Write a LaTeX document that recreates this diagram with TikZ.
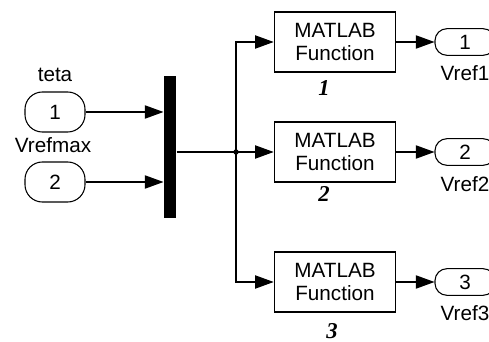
\documentclass[tikz,border=0pt]{standalone}
\usepackage{fontspec}
\setmainfont{Liberation Sans}
\newfontfamily\gainfont{Liberation Serif}
\usetikzlibrary{positioning, arrows.meta}
\tikzset{
  simulink/.style={
	x=0.75pt, y=-0.75pt, % one unit is one pixel of the screenshot
	line width=0.8pt,
	>={Triangle[length=14pt,width=10pt]}, % filled Simulink heads
	font=\fontsize{15.5}{17.5}\selectfont,
  },
  inport/.style={draw, rounded corners=13pt, minimum width=45pt, minimum height=30pt, inner sep=0pt},
  outport/.style={draw, rounded corners=9pt, minimum width=45pt, minimum height=20pt, inner sep=0pt},
  fcnbox/.style={draw, line width=1pt, minimum width=91pt, minimum height=45pt, align=center, inner sep=0pt},
  muxbar/.style={fill=black, minimum width=9pt, minimum height=107pt, inner sep=0pt},
  blocklabel/.style={inner sep=0pt},
  gainlabel/.style={inner sep=0pt, font=\gainfont\bfseries\itshape\fontsize{17}{19}\selectfont},
}
\begin{document}
\begin{tikzpicture}[simulink]
\useasboundingbox (0,0) rectangle (489,342);
\clip (0,0) rectangle (489,342);
% inports
\node[inport] (in1) at (55,112) {1};
\node[inport] (in2) at (55,182) {2};
\node[blocklabel] (teta) at (55,75) {teta};
\node[blocklabel] (vrefmax) at (53,145) {Vrefmax};
% mux
\node[muxbar] (mux) at (170,147) {};
\coordinate (jn) at (236,152);
% matlab functions
\node[fcnbox] (fcn1) at (335,42) {MATLAB\\Function};
\node[fcnbox] (fcn2) at (335,152) {MATLAB\\Function};
\node[fcnbox] (fcn3) at (335,282) {MATLAB\\Function};
\node[gainlabel] (g1) at (324,88) {1};
\node[gainlabel] (g2) at (324,194) {2};
\node[gainlabel] (g3) at (332,331) {3};
% outports
\node[outport] (out1) at (465,42) {1};
\node[outport] (out2) at (465,152) {2};
\node[outport] (out3) at (465,282) {3};
\node[blocklabel] (vref1) at (465,73) {Vref1};
\node[blocklabel] (vref2) at (465,184) {Vref2};
\node[blocklabel] (vref3) at (465,313) {Vref3};
% signals
\draw[->] (in1) -- (in1 -| mux.west);
\draw[->] (in2) -- (in2 -| mux.west);
\draw (mux.east |- jn) -- (jn);
\fill (jn) circle (2pt);
\draw[->] (jn) |- (fcn1);
\draw[->] (jn) -- (fcn2);
\draw[->] (jn) |- (fcn3);
\draw[->] (fcn1) -- (out1);
\draw[->] (fcn2) -- (out2);
\draw[->] (fcn3) -- (out3);
\end{tikzpicture}
\end{document}
